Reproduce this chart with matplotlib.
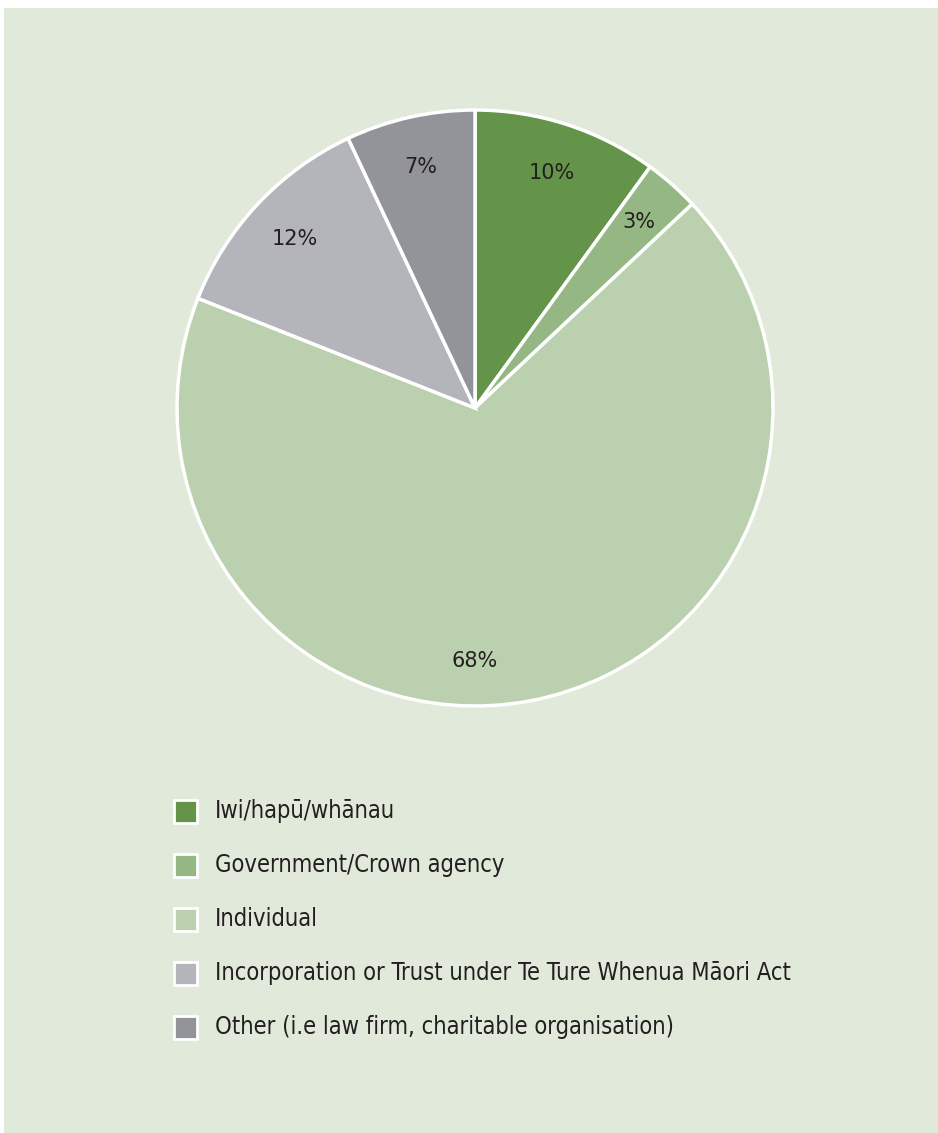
import matplotlib.pyplot as plt
from matplotlib.patches import Rectangle

# dados do grafico
categorias = ['Iwi/hapū/whānau', 'Government/Crown agency', 'Individual',
              'Incorporation or Trust under Te Ture Whenua Māori Act',
              'Other (i.e law firm, charitable organisation)']
valores = [10, 3, 68, 12, 7]
cores = ['#64934a', '#95b783', '#bbd0af', '#b3b5bb', '#939499']

W, H = 938, 1133
fig = plt.figure(figsize=(W / 100, H / 100), dpi=100, facecolor='white')

# painel de fundo
fig.patches.append(Rectangle((4 / W, 0), 1 - 4 / W, 1 - 8 / H, transform=fig.transFigure,
                             facecolor='#e1e9da', edgecolor='none', zorder=-5))

# pizza
cx, cy, r = 475, 408, 298
ax = fig.add_axes([(cx - r) / W, (H - cy - r) / H, 2 * r / W, 2 * r / H])
ax.set_zorder(3)
fatias, textos, pcts = ax.pie(valores, colors=cores, startangle=90, counterclock=False,
                              autopct='%d%%', pctdistance=0.83,
                              wedgeprops=dict(edgecolor='white', linewidth=2.5),
                              textprops=dict(fontsize=15, color='#231f20', family='DejaVu Sans'))
# no original o rotulo de 68% fica centrado embaixo
pcts[2].set_position((0, -0.85))
ax.set_xlim(-1.0, 1.0)
ax.set_ylim(-1.0, 1.0)
ax.set_aspect('equal')
ax.axis('off')

# legenda manual
y0, passo = 811, 54
for i, (cat, cor) in enumerate(zip(categorias, cores)):
    y = y0 + i * passo
    fig.patches.append(Rectangle((174 / W, (H - y - 11.5) / H), 23 / W, 23 / H,
                                 transform=fig.transFigure, facecolor=cor,
                                 edgecolor='white', linewidth=2, zorder=2))
    fig.text(215 / W, (H - y) / H, cat, fontsize=17, family='DejaVu Sans',
             stretch='condensed', color='#231f20', va='center', ha='left')

fig.savefig('out.png', dpi=100, facecolor='white')
